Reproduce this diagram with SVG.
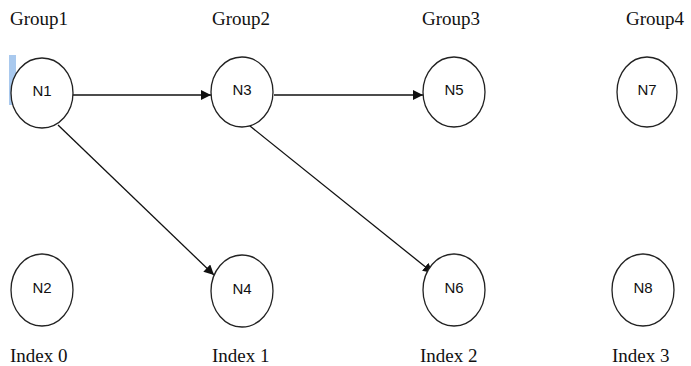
<svg xmlns="http://www.w3.org/2000/svg" width="691" height="366" viewBox="0 0 691 366">
<style>
.node ellipse{fill:#fff;stroke:#222;stroke-width:1.3}
.node text{font-family:"Liberation Sans",Arial,sans-serif;font-size:15px;fill:#111;text-anchor:middle}
.lbl{font-family:"Liberation Serif","Times New Roman",serif;font-size:19px;fill:#111}
.edge{stroke:#111;stroke-width:1.3;fill:none;marker-end:url(#ah)}
</style>
<defs>
<marker id="ah" viewBox="0 0 10 10" refX="10" refY="5" markerWidth="10" markerHeight="10" markerUnits="userSpaceOnUse" orient="auto">
<path d="M0,0 L10,5 L0,10 z" fill="#111"/>
</marker>
</defs>
<rect width="691" height="366" fill="#fff"/>
<rect x="9" y="55" width="7" height="50" fill="#a9c9ee"/>
<g id="labels">
<text class="lbl" x="10" y="25">Group1</text>
<text class="lbl" x="212" y="25">Group2</text>
<text class="lbl" x="422" y="25">Group3</text>
<text class="lbl" x="626" y="25">Group4</text>
<text class="lbl" x="10" y="362">Index 0</text>
<text class="lbl" x="212" y="362">Index 1</text>
<text class="lbl" x="420" y="362">Index 2</text>
<text class="lbl" x="612" y="362">Index 3</text>
</g>
<g id="connectors">
<line class="edge" x1="73" y1="95" x2="211" y2="95"/>
<line class="edge" x1="274" y1="95" x2="423" y2="95"/>
<line class="edge" x1="58" y1="125" x2="214" y2="275"/>
<line class="edge" x1="250" y1="126" x2="433" y2="273"/>
</g>
<g id="N1" class="node"><ellipse cx="42" cy="93" rx="31" ry="35"/><text x="42" y="96">N1</text></g>
<g id="N2" class="node"><ellipse cx="42" cy="290" rx="31" ry="36"/><text x="42" y="293">N2</text></g>
<g id="N3" class="node"><ellipse cx="242" cy="92" rx="31" ry="35"/><text x="242" y="95">N3</text></g>
<g id="N4" class="node"><ellipse cx="242" cy="291" rx="31" ry="36"/><text x="242" y="294">N4</text></g>
<g id="N5" class="node"><ellipse cx="454" cy="92" rx="31" ry="35"/><text x="454" y="95">N5</text></g>
<g id="N6" class="node"><ellipse cx="454" cy="290" rx="31" ry="36"/><text x="454" y="293">N6</text></g>
<g id="N7" class="node"><ellipse cx="647" cy="92" rx="30" ry="35"/><text x="647" y="95">N7</text></g>
<g id="N8" class="node"><ellipse cx="643" cy="290" rx="31" ry="36"/><text x="643" y="293">N8</text></g>
</svg>
